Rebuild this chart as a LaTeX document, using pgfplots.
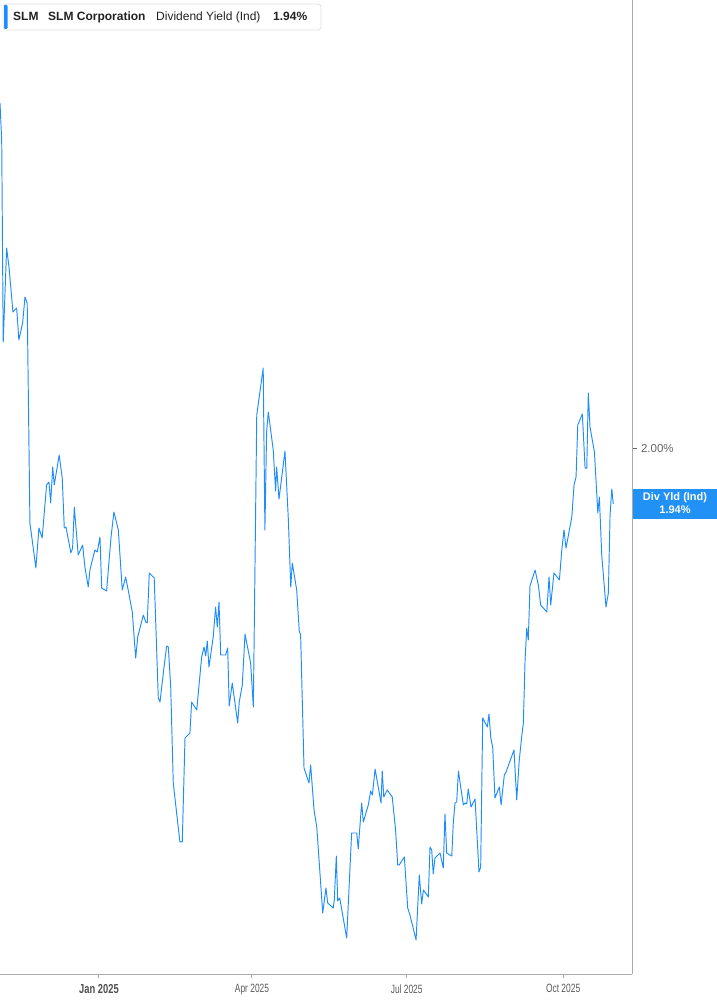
\documentclass[border=0pt]{standalone}
\usepackage{pgfplots}
\pgfplotsset{compat=1.18}
\usepackage{pgfplotstable}
\usepackage{fontspec}
\setmainfont{Liberation Sans}

\definecolor{lineblue}{RGB}{30,140,250}
\definecolor{boxblue}{RGB}{33,145,245}
\definecolor{axisgray}{RGB}{170,170,170}
\definecolor{labelgray}{RGB}{100,100,100}
\definecolor{textdark}{RGB}{34,34,34}

% days since 1 Jan 2025, dividend yield in percent
\pgfplotstableread{
day yield
-58.2 2.3632
-57.2 2.3242
-56.3 2.1116
-54.3 2.2105
-52.9 2.1905
-50.6 2.1432
-48.4 2.1474
-47.1 2.1137
-44.9 2.1316
-43.5 2.1589
-42.2 2.1526
-40.6 1.9211
-37.1 1.8737
-35.3 1.9158
-33.4 1.9053
-30.8 1.9611
-29.4 1.9642
-28.4 1.9421
-27.2 1.9800
-26.3 1.9611
-23.4 1.9926
-21.6 1.9684
-20.4 1.9158
-19.4 1.9168
-16.5 1.8895
-15.5 1.8947
-14.5 1.9379
-12.2 1.8874
-9.6 1.8979
-8.2 1.8737
-6.3 1.8537
-5.3 1.8716
-2.4 1.8926
-1.0 1.8905
0.6 1.9063
1.6 1.8526
4.5 1.8495
7.1 1.9063
8.8 1.9326
11.4 1.9137
13.7 1.8505
15.7 1.8642
17.2 1.8505
19.6 1.8274
21.6 1.7789
22.8 1.8011
26.1 1.8242
27.5 1.8168
28.4 1.8158
29.6 1.8684
32.5 1.8632
34.9 1.7368
35.9 1.7326
38.2 1.7684
39.8 1.7916
40.8 1.7905
42.2 1.7484
43.7 1.6474
47.6 1.5853
49.0 1.5853
50.6 1.6947
53.5 1.7000
54.5 1.7326
57.5 1.7242
60.4 1.7800
61.8 1.7905
62.8 1.7811
63.7 1.7968
64.7 1.7695
67.2 1.8011
68.6 1.8326
69.6 1.8116
70.6 1.8379
71.6 1.7821
74.5 1.7821
75.7 1.7895
76.6 1.7284
78.4 1.7526
81.6 1.7105
82.5 1.7326
84.3 1.7505
85.9 1.8042
89.2 1.7737
90.8 1.7274
92.8 2.0347
96.6 2.0842
97.6 1.9137
98.6 2.0168
99.6 2.0379
102.5 1.9979
103.9 1.9547
104.5 1.9800
105.9 1.9463
109.4 1.9968
111.4 1.9242
112.8 1.8537
113.7 1.8789
116.3 1.8505
117.8 1.8074
118.6 1.8032
120.6 1.6632
123.5 1.6474
124.5 1.6663
126.5 1.6189
128.1 1.6011
131.6 1.5105
133.5 1.5368
134.5 1.5211
137.8 1.5158
138.4 1.5242
139.6 1.5705
140.4 1.5232
141.6 1.5263
145.7 1.4842
148.6 1.5947
151.6 1.5947
152.5 1.5779
154.5 1.6263
155.5 1.6063
158.4 1.6242
159.8 1.6389
160.8 1.6347
162.4 1.6621
165.9 1.6263
166.6 1.6600
167.5 1.6326
169.6 1.6400
172.5 1.6326
174.5 1.5968
175.7 1.5611
176.6 1.5611
179.6 1.5695
181.6 1.5158
182.9 1.5084
186.5 1.4821
188.4 1.5505
189.8 1.5200
190.8 1.5347
193.7 1.5274
194.7 1.5800
195.7 1.5768
196.6 1.5516
197.6 1.5684
200.6 1.5737
202.5 1.5579
203.5 1.6147
204.5 1.5737
207.5 1.5705
208.4 1.6053
209.4 1.6263
210.4 1.6274
211.4 1.6600
214.3 1.6242
215.3 1.6263
216.3 1.6253
217.2 1.6411
218.8 1.6221
221.2 1.6305
223.5 1.5537
224.5 1.5589
225.7 1.7158
228.4 1.7063
229.4 1.7200
230.4 1.6958
231.6 1.6842
232.9 1.6316
235.5 1.6432
236.5 1.6242
238.4 1.6558
239.2 1.6579
244.1 1.6821
245.7 1.6295
247.1 1.6695
248.6 1.6958
249.6 1.7105
250.6 1.7768
251.6 1.8105
252.5 1.7979
253.5 1.8547
256.5 1.8716
258.4 1.8558
259.8 1.8347
263.4 1.8274
264.7 1.8642
265.7 1.8347
267.6 1.8684
270.8 1.8611
272.2 1.8926
273.5 1.9137
274.7 1.8947
278.1 1.9274
279.4 1.9611
280.6 1.9695
281.6 2.0242
284.3 2.0358
285.9 1.9789
286.9 1.9789
287.8 2.0579
288.8 2.0221
291.4 1.9958
293.4 1.9316
294.3 1.9484
295.7 1.8874
298.2 1.8326
299.6 1.8474
300.6 1.9295
301.6 1.9568
302.5 1.9411
}\slmyield

\begin{document}
\begin{tikzpicture}[x=1pt,y=1pt]
\path[use as bounding box] (0,-31) rectangle (717,974);
\begin{axis}[
  at={(0,0)}, anchor=south west,
  scale only axis, width=632pt, height=974pt,
  xmin=-58.2, xmax=313.5,
  ymin=1.4463, ymax=2.4716,
  axis x line*=bottom, axis y line*=right,
  axis line style={draw=axisgray, line width=1pt},
  tick align=outside,
  major tick length=4.5pt,
  xtick={0,90,181,273},
  xticklabels={%
    {\raisebox{-4pt}{\scalebox{0.72}[1]{\color{labelgray!80!black}\fontsize{13}{15}\selectfont\bfseries Jan 2025}}},
    {\scalebox{0.7}[1]{Apr 2025}},
    {\scalebox{0.7}[1]{Jul 2025}},
    {\scalebox{0.7}[1]{Oct 2025}}},
  xtick style={draw=axisgray, line width=1pt},
  xticklabel style={font=\fontsize{12}{14}\selectfont, text=labelgray!90!black, yshift=-2.5pt},
  ytick={2},
  yticklabels={2.00\%},
  ytick style={draw=labelgray, line width=1pt},
  yticklabel style={font=\fontsize{11.5}{13}\selectfont, text=labelgray, xshift=1pt, yshift=-0.5pt},
]
\addplot[lineblue, line width=0.95pt, line join=round] table[x=day, y=yield] {\slmyield};
\end{axis}

% legend box, top left
\draw[rounded corners=3pt, draw=black!12, fill=white, line width=0.8pt] (3,970) rectangle (321,944);
\fill[lineblue, rounded corners=1pt] (4,969) rectangle (7.5,945);
\begin{scope}[every node/.style={anchor=base west, inner sep=0pt, text=textdark, font=\fontsize{12}{14}\selectfont\bfseries}]
\node at (13,953) {SLM};
\node at (48,953) {SLM Corporation};
\node[font=\fontsize{12}{14}\selectfont] at (156,953) {Dividend Yield (Ind)};
\node at (273,953) {1.94\%};
\end{scope}

% current value marker on the right
\fill[boxblue] (633,485) rectangle (717,455);
\node[text=white, font=\fontsize{11}{13}\selectfont\bfseries, inner sep=0pt] at (675,476) {Div Yld (Ind)};
\node[text=white, font=\fontsize{11}{13}\selectfont\bfseries, inner sep=0pt] at (675,464) {1.94\%};
\end{tikzpicture}
\end{document}
